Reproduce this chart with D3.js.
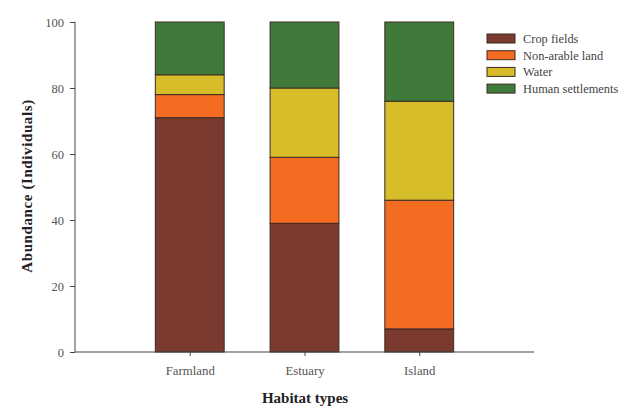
<!DOCTYPE html>
<html>
<head>
<meta charset="utf-8">
<script src="https://cdn.jsdelivr.net/npm/d3@7/dist/d3.min.js"></script>
<style>
  html, body { margin: 0; padding: 0; background: #fff; }
  svg { display: block; }
  text { font-family: "Liberation Serif", "Times New Roman", serif; }
</style>
</head>
<body>
<svg id="chart" width="635" height="408"></svg>
<script>
// Habitat types along the x axis
const habitats = ["Farmland", "Estuary", "Island"];
// Stacked components (bottom to top)
const components = ["Crop fields", "Non-arable land", "Water", "Human settlements"];
// Abundance per component, one value per habitat
const cropFields       = [71, 39, 7];
const nonArableLand    = [7, 20, 39];
const water            = [6, 21, 30];
const humanSettlements = [16, 20, 24];
const yTicks = [0, 20, 40, 60, 80, 100];

const colors = ["#7a3a2f", "#f46b22", "#d8bd2b", "#3f7a3a"];

const rows = habitats.map((h, i) => ({
  habitat: h,
  "Crop fields": cropFields[i],
  "Non-arable land": nonArableLand[i],
  "Water": water[i],
  "Human settlements": humanSettlements[i]
}));

const svg = d3.select("#chart");
const x0 = 75, x1 = 534, yTop = 22, yBottom = 352;

// Habitats sit at positions 1..3 on a 0..4 axis
const x = d3.scaleLinear().domain([0, 4]).range([x0, x1]);
const y = d3.scaleLinear().domain([0, 100]).range([yBottom, yTop]);
const barW = x(0.6) - x(0);

const stack = d3.stack().keys(components);
const series = stack(rows);

const g = svg.append("g");
series.forEach((s, si) => {
  g.selectAll(null)
    .data(s)
    .enter()
    .append("rect")
    .attr("x", (d, i) => x(i + 1) - barW / 2)
    .attr("y", d => y(d[1]))
    .attr("width", barW)
    .attr("height", d => y(d[0]) - y(d[1]))
    .attr("fill", colors[si])
    .attr("stroke", "#3b2a22")
    .attr("stroke-width", 1);
});

// Y axis
const yAxis = d3.axisLeft(y).tickValues(yTicks).tickSize(5).tickPadding(6);
const yg = svg.append("g").attr("transform", `translate(${x0},0)`).call(yAxis);
yg.select(".domain").attr("stroke", "#444").attr("d", `M-0.5,${yTop}H0V${yBottom}`);
yg.selectAll(".tick line").attr("stroke", "#444");
yg.selectAll(".tick text").attr("fill", "#555").style("font-size", "12.5px")
  .style("font-family", "Liberation Serif, serif");

// X axis
const xAxis = d3.axisBottom(x).tickValues([1, 2, 3])
  .tickFormat(d => habitats[d - 1]).tickSize(4).tickPadding(10);
const xg = svg.append("g").attr("transform", `translate(0,${yBottom})`).call(xAxis);
xg.select(".domain").attr("stroke", "#444").attr("d", `M${x0},0H${x1}`);
xg.selectAll(".tick line").attr("stroke", "#444");
xg.selectAll(".tick text").attr("fill", "#555").style("font-size", "12.8px")
  .style("font-family", "Liberation Serif, serif");

// Axis titles
svg.append("text")
  .attr("x", 305).attr("y", 403)
  .attr("text-anchor", "middle")
  .style("font-size", "15px").style("font-weight", "bold")
  .attr("fill", "#222")
  .text("Habitat types");

svg.append("text")
  .attr("transform", "translate(32,186) rotate(-90)")
  .attr("text-anchor", "middle")
  .style("font-size", "15px").style("font-weight", "bold")
  .style("letter-spacing", "0.6px")
  .attr("fill", "#222")
  .text("Abundance (Individuals)");

// Legend
const legend = svg.append("g").attr("transform", "translate(487,34)");
components.forEach((c, i) => {
  const row = legend.append("g").attr("transform", `translate(0,${i * 16.7})`);
  row.append("rect")
    .attr("width", 28).attr("height", 9)
    .attr("fill", colors[i])
    .attr("stroke", "#3b2a22").attr("stroke-width", 1);
  row.append("text")
    .attr("x", 36).attr("y", 9)
    .style("font-size", "12.4px")
    .attr("fill", "#444")
    .text(c);
});
</script>
</body>
</html>
